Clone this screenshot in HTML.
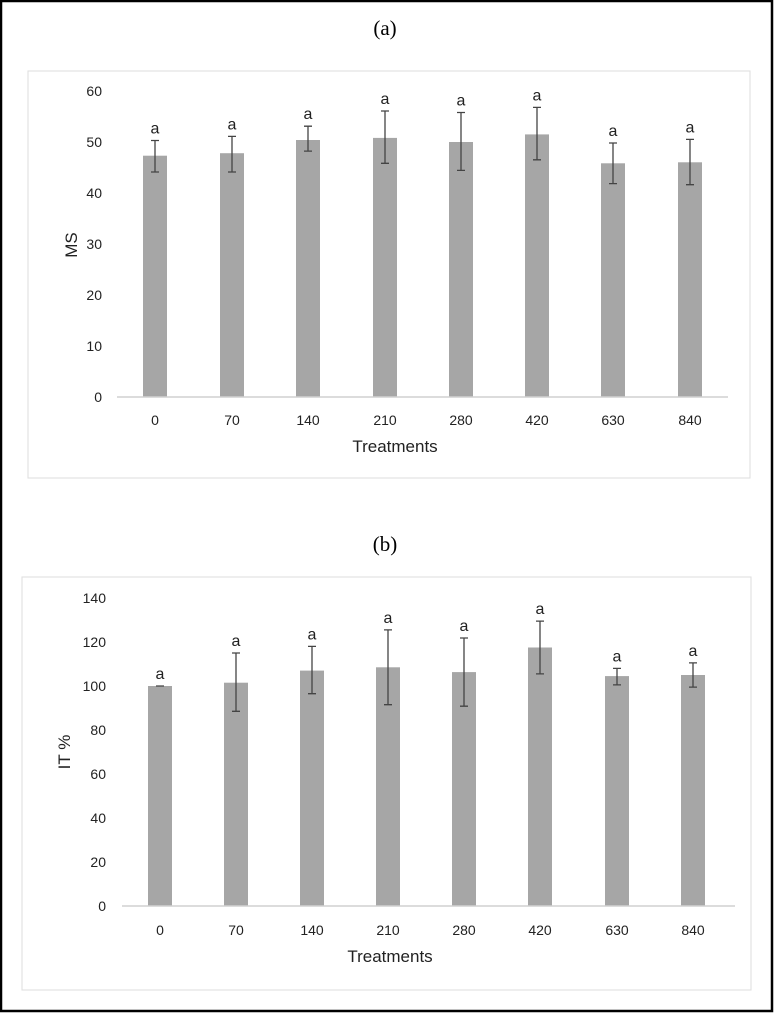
<!DOCTYPE html><html><head><style>body{margin:0;background:#fff}svg{display:block}</style></head><body>
<svg width="774" height="1013" xmlns="http://www.w3.org/2000/svg" font-family="Liberation Sans, sans-serif">
<rect x="1" y="1" width="771" height="1010" fill="#fff" stroke="#000" stroke-width="2.5"/>
<text x="385" y="35" font-family="Liberation Serif, serif" font-size="21" text-anchor="middle">(a)</text>
<text x="385" y="551" font-family="Liberation Serif, serif" font-size="21" text-anchor="middle">(b)</text>
<rect x="28" y="71" width="722" height="407" fill="none" stroke="#ddd" stroke-width="1"/>
<rect x="22" y="577" width="729" height="413" fill="none" stroke="#ddd" stroke-width="1"/>

<g font-size="14" fill="#222">
<g fill="#a6a6a6">
<rect x="143" y="155.7" width="24" height="241.3"/>
<rect x="220" y="153.2" width="24" height="243.8"/>
<rect x="296" y="140" width="24" height="257"/>
<rect x="373" y="137.9" width="24" height="259.1"/>
<rect x="449" y="142" width="24" height="255"/>
<rect x="525" y="134.4" width="24" height="262.6"/>
<rect x="601" y="163.3" width="24" height="233.7"/>
<rect x="678" y="162.3" width="24" height="234.7"/>
</g>
<line x1="117" y1="397" x2="728" y2="397" stroke="#d0d0d0" stroke-width="1.5"/>
<path fill="none" stroke="#444" stroke-width="1.3" d="
M155 140.5V172M151 140.5H159M151 172H159
M232 136.4V172M228 136.4H236M228 172H236
M308 126.2V151.1M304 126.2H312M304 151.1H312
M385 111V163.3M381 111H389M381 163.3H389
M461 112.5V170.4M457 112.5H465M457 170.4H465
M537 107.4V159.8M533 107.4H541M533 159.8H541
M613 143V183.6M609 143H617M609 183.6H617
M690 139.4V184.7M686 139.4H694M686 184.7H694"/>
<g font-size="16" text-anchor="middle">
<text x="155" y="133.5">a</text><text x="232" y="129.4">a</text><text x="308" y="119.2">a</text><text x="385" y="104">a</text><text x="461" y="105.5">a</text><text x="537" y="100.4">a</text><text x="613" y="136">a</text><text x="690" y="132.4">a</text>
</g>
<g text-anchor="middle">
<text x="155" y="425">0</text><text x="232" y="425">70</text><text x="308" y="425">140</text><text x="385" y="425">210</text><text x="461" y="425">280</text><text x="537" y="425">420</text><text x="613" y="425">630</text><text x="690" y="425">840</text>
</g>
<g text-anchor="end"><text x="102" y="402">0</text><text x="102" y="351">10</text><text x="102" y="300">20</text><text x="102" y="249">30</text><text x="102" y="198">40</text><text x="102" y="147">50</text><text x="102" y="96">60</text></g>
<text transform="translate(77,245) rotate(-90)" font-size="17" text-anchor="middle">MS</text>
<text x="395" y="452" font-size="17" text-anchor="middle">Treatments</text>
</g>

<g font-size="14" fill="#222">
<g fill="#a6a6a6">
<rect x="148" y="686" width="24" height="220"/>
<rect x="224" y="682.7" width="24" height="223.3"/>
<rect x="300" y="670.6" width="24" height="235.4"/>
<rect x="376" y="667.3" width="24" height="238.7"/>
<rect x="452" y="672.1" width="24" height="233.9"/>
<rect x="528" y="647.5" width="24" height="258.5"/>
<rect x="605" y="676.1" width="24" height="229.9"/>
<rect x="681" y="675" width="24" height="231"/>
</g>
<line x1="122" y1="906" x2="735" y2="906" stroke="#d0d0d0" stroke-width="1.5"/>
<path fill="none" stroke="#444" stroke-width="1.3" d="
M156 686H164
M236 653V711.3M232 653H240M232 711.3H240
M312 646.4V693.7M308 646.4H316M308 693.7H316
M388 629.9V704.7M384 629.9H392M384 704.7H392
M464 638V706.2M460 638H468M460 706.2H468
M540 621.1V673.9M536 621.1H544M536 673.9H544
M617 668.4V684.9M613 668.4H621M613 684.9H621
M693 662.9V687.1M689 662.9H697M689 687.1H697"/>
<g font-size="16" text-anchor="middle">
<text x="160" y="679">a</text><text x="236" y="646">a</text><text x="312" y="639.4">a</text><text x="388" y="622.9">a</text><text x="464" y="631">a</text><text x="540" y="614.1">a</text><text x="617" y="661.4">a</text><text x="693" y="655.9">a</text>
</g>
<g text-anchor="middle">
<text x="160" y="935">0</text><text x="236" y="935">70</text><text x="312" y="935">140</text><text x="388" y="935">210</text><text x="464" y="935">280</text><text x="540" y="935">420</text><text x="617" y="935">630</text><text x="693" y="935">840</text>
</g>
<g text-anchor="end"><text x="106" y="911">0</text><text x="106" y="867">20</text><text x="106" y="823">40</text><text x="106" y="779">60</text><text x="106" y="735">80</text><text x="106" y="691">100</text><text x="106" y="647">120</text><text x="106" y="603">140</text></g>
<text transform="translate(70,752) rotate(-90)" font-size="17" text-anchor="middle">IT %</text>
<text x="390" y="962" font-size="17" text-anchor="middle">Treatments</text>
</g>
</svg></body></html>
